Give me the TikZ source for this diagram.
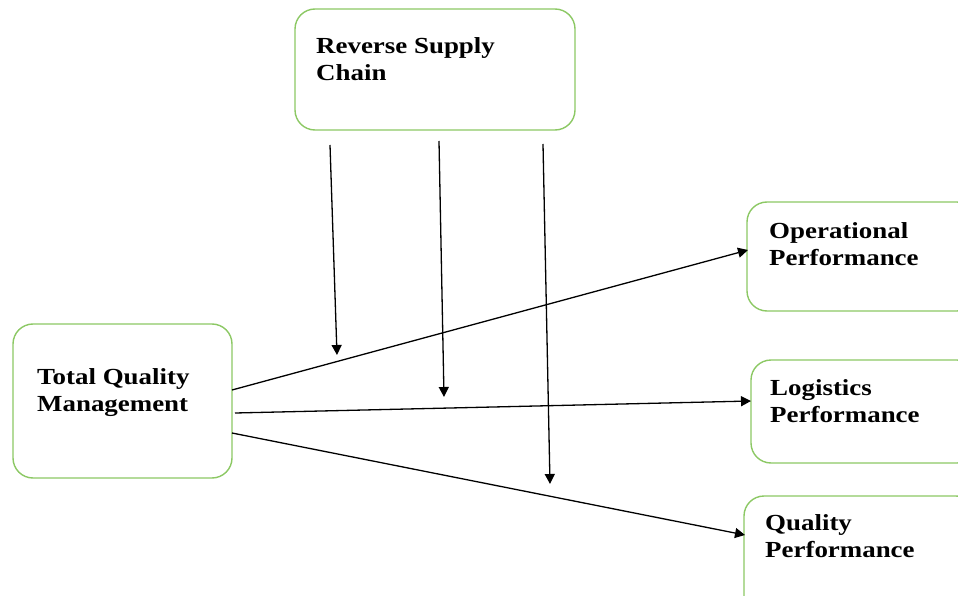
\documentclass[tikz,border=0pt]{standalone}
\usepackage{fontspec}
\setmainfont{Liberation Serif}[FakeStretch=1.17]
\usetikzlibrary{arrows.meta}
\definecolor{boxgreen}{RGB}{140,200,100}
\tikzset{
  box/.style={draw=boxgreen, line width=1.4pt, rounded corners=20pt, inner sep=0pt},
  lbl/.style={font=\fontsize{23}{27.5}\selectfont\bfseries, align=left, inner sep=0pt, anchor=north west},
  conn/.style={line width=1.3pt, -{Triangle[length=10pt,width=10pt]}}
}
\begin{document}
\begin{tikzpicture}[x=1pt,y=-1pt]
\useasboundingbox (0,0) rectangle (958,596);
\clip (0,0) rectangle (958,596);
% boxes
\node[box, minimum width=280pt, minimum height=121pt] (rsc) at (435,69.5) {};
\node[box, minimum width=219pt, minimum height=154pt] (tqm) at (122.5,401) {};
\node[box, minimum width=230pt, minimum height=109pt] (op) at (862,256.5) {};
\node[box, minimum width=226pt, minimum height=103pt] (lp) at (864,411.5) {};
\node[box, minimum width=232pt, minimum height=120pt] (qp) at (860,556) {};
% labels
\node[lbl] (rsct) at (316,37) {Reverse Supply\\Chain};
\node[lbl] (tqmt) at (37,368) {Total Quality\\Management};
\node[lbl] (opt) at (769,222) {Operational\\Performance};
\node[lbl] (lpt) at (770,379) {Logistics\\Performance};
\node[lbl] (qpt) at (765,514) {Quality\\Performance};
% connector end points
\coordinate (r1s) at (330,145);
\coordinate (r1e) at (337,355);
\coordinate (r2s) at (439,141);
\coordinate (r2e) at (444,397);
\coordinate (r3s) at (543,144);
\coordinate (r3e) at (550,484);
\coordinate (t1) at (232,390);
\coordinate (t2) at (235,413);
\coordinate (t3) at (232,433);
\coordinate (o1) at (748,250);
\coordinate (l1) at (751,401);
\coordinate (q1) at (745,535);
% arrows
\draw[conn] (r1s) -- (r1e);
\draw[conn] (r2s) -- (r2e);
\draw[conn] (r3s) -- (r3e);
\draw[conn] (t1) -- (o1);
\draw[conn] (t2) -- (l1);
\draw[conn] (t3) -- (q1);
\end{tikzpicture}
\end{document}
